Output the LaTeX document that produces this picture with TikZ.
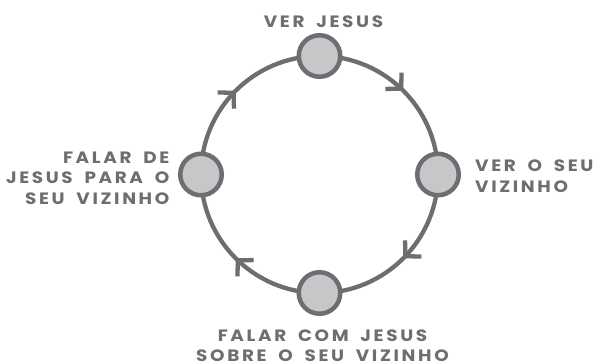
\documentclass[tikz,border=0pt]{standalone}
\usepackage{fontspec}
\setmainfont{Poppins}[LetterSpace=16,WordSpace=1.8,FakeStretch=1.12]
\usetikzlibrary{arrows.meta,decorations.markings,backgrounds}
\definecolor{ring}{HTML}{6D6E71}
\definecolor{dot}{HTML}{C6C7C9}
\begin{document}
\begin{tikzpicture}[x=1bp,y=1bp,
  stage/.style={circle,draw=ring,fill=dot,line width=4.5bp,minimum size=41.5bp,inner sep=0},
  lbl/.style={text=ring,font=\fontsize{16.5}{20.5}\selectfont\bfseries,inner sep=0},
  flow/.style={draw=ring,line width=4.3bp,postaction=decorate,
    decoration={markings,mark=at position 0.5 with {\arrow[line width=4.3bp]{Straight Barb[length=11bp,width=23bp]}}}}]
\useasboundingbox (0,0) rectangle (593,363);
\node[stage] (t) at (319.5,307) {};
\node[stage] (r) at (438,188.5) {};
\node[stage] (b) at (319.5,70) {};
\node[stage] (l) at (201,188.5) {};
\begin{scope}[on background layer]
\draw[flow] (t.center) arc[start angle=90,end angle=0,radius=118.5bp];
\draw[flow] (r.center) arc[start angle=0,end angle=-90,radius=118.5bp];
\draw[flow] (b.center) arc[start angle=-90,end angle=-180,radius=118.5bp];
\draw[flow] (l.center) arc[start angle=180,end angle=90,radius=118.5bp];
\end{scope}
\node[lbl,anchor=base] (tl) at (323.5,336) {VER JESUS};
\node[lbl,anchor=north east,align=right] (ll) at (169.5,211.3) {FALAR DE\\JESUS PARA O\\SEU VIZINHO};
\node[lbl,anchor=north west,align=left] (rl) at (475,203) {VER O SEU\\VIZINHO};
\node[lbl,anchor=north,align=center] (bl) at (322.5,33.5) {FALAR COM JESUS\\SOBRE O SEU VIZINHO};
\end{tikzpicture}
\end{document}
